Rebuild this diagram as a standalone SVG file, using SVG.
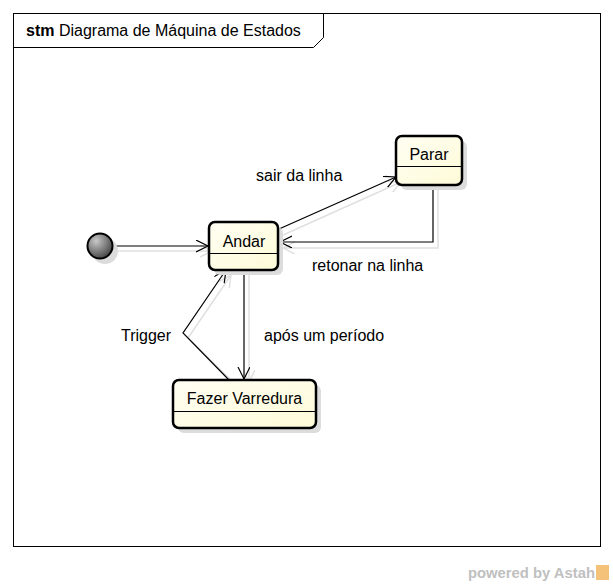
<svg xmlns="http://www.w3.org/2000/svg" width="613" height="586" viewBox="0 0 613 586">
<style>
text{font-family:"Liberation Sans",Arial,sans-serif;font-size:16px;fill:#000}
.st{fill:url(#yg);stroke:#000;stroke-width:2.5}
.sh{fill:#dcdcdc}
.ln{fill:none;stroke:#000;stroke-width:1.2}
.ls{fill:none;stroke:#e0e0e0;stroke-width:1.5}
</style>
<defs>
<linearGradient id="yg" x1="0" y1="0" x2="1" y2="1">
<stop offset="0" stop-color="#fffef2"/><stop offset="1" stop-color="#fefbd8"/>
</linearGradient>
<radialGradient id="cg" cx="0.35" cy="0.3" r="0.8">
<stop offset="0" stop-color="#c8c8c8"/><stop offset="1" stop-color="#3a3a3a"/>
</radialGradient>
<marker id="ar" markerWidth="14" markerHeight="14" refX="12" refY="6" orient="auto" markerUnits="userSpaceOnUse">
<path d="M0,0 L12,6 L0,12" fill="none" stroke="#000" stroke-width="1.2"/>
</marker>
<marker id="as" markerWidth="14" markerHeight="14" refX="12" refY="6" orient="auto" markerUnits="userSpaceOnUse">
<path d="M0,0 L12,6 L0,12" fill="none" stroke="#e0e0e0" stroke-width="1.5"/>
</marker>
</defs>
<rect width="613" height="586" fill="#fff"/>
<g id="frame">
<rect x="13.5" y="13.5" width="587" height="533" fill="none" stroke="#000" stroke-width="1"/>
<path d="M13.5,47.5 H313.5 L323.5,37.5 V13.5" fill="none" stroke="#000" stroke-width="1"/>
<text x="26" y="36"><tspan font-weight="bold">stm</tspan> Diagrama de Máquina de Estados</text>
</g>
<g id="connectors">
<g id="shadows">
<line class="ls" x1="118" y1="251" x2="212" y2="251" marker-end="url(#as)"/>
<line class="ls" x1="283" y1="235" x2="401" y2="182" marker-end="url(#as)"/>
<polyline class="ls" points="438,190 438,248 283,248" marker-end="url(#as)"/>
<line class="ls" x1="249" y1="275" x2="249" y2="382" marker-end="url(#as)"/>
<polyline class="ls" points="234,383 188,338 231,275" marker-end="url(#as)"/>
</g>
<line class="ln" x1="115" y1="246" x2="208" y2="246" marker-end="url(#ar)"/>
<line class="ln" x1="279" y1="229" x2="396" y2="177" marker-end="url(#ar)"/>
<polyline class="ln" points="433,185 433,242 280,242" marker-end="url(#ar)"/>
<line class="ln" x1="244" y1="270" x2="244" y2="379" marker-end="url(#ar)"/>
<polyline class="ln" points="229,380 183,333 226,270" marker-end="url(#ar)"/>
<text x="256" y="181">sair da linha</text>
<text x="312" y="271">retonar na linha</text>
<text x="264" y="341">após um período</text>
<text x="121" y="341">Trigger</text>
</g>
<g id="initial">
<circle cx="105" cy="251" r="13" class="sh"/>
<circle cx="100" cy="246" r="12.5" fill="url(#cg)" stroke="#000" stroke-width="2"/>
</g>
<g id="andar">
<rect x="214" y="227" width="69" height="48" rx="6" class="sh"/>
<rect x="209" y="222" width="69" height="48" rx="6" class="st"/>
<line x1="209" y1="253.5" x2="278" y2="253.5" stroke="#000" stroke-width="1"/>
<text x="244" y="247" text-anchor="middle">Andar</text>
</g>
<g id="parar">
<rect x="401" y="141" width="66" height="49" rx="6" class="sh"/>
<rect x="396" y="136" width="66" height="49" rx="6" class="st"/>
<line x1="396" y1="166.5" x2="462" y2="166.5" stroke="#000" stroke-width="1"/>
<text x="429" y="160" text-anchor="middle">Parar</text>
</g>
<g id="fazer">
<rect x="178" y="385" width="143" height="48" rx="6" class="sh"/>
<rect x="173" y="380" width="143" height="48" rx="6" class="st"/>
<line x1="173" y1="411.5" x2="316" y2="411.5" stroke="#000" stroke-width="1"/>
<text x="244.5" y="404" text-anchor="middle">Fazer Varredura</text>
</g>
<g id="logo">
<text x="468" y="578" font-weight="bold" textLength="127" lengthAdjust="spacingAndGlyphs" style="fill:#c0c0c0;font-size:14px">powered by Astah</text>
<rect x="596" y="565" width="13" height="15" fill="#f5c27a"/>
</g>
</svg>
